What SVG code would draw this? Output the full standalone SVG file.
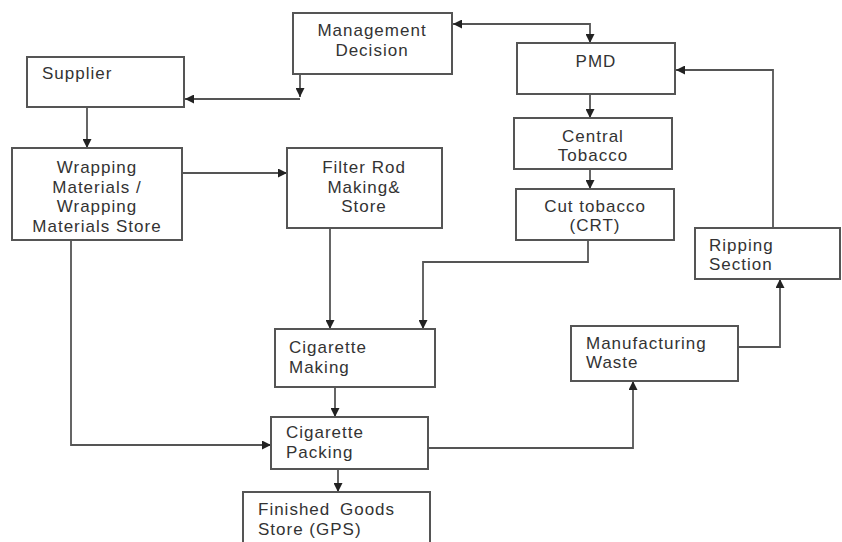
<svg xmlns="http://www.w3.org/2000/svg" width="842" height="542" viewBox="0 0 842 542">
<defs>
<marker id="ah" viewBox="0 0 10 10" refX="10" refY="5" markerWidth="9" markerHeight="9" markerUnits="userSpaceOnUse" orient="auto-start-reverse">
<path d="M0,0 L10,5 L0,10 z" fill="#222"/>
</marker>
<style>
.box{fill:#fff;stroke:#555;stroke-width:2}
.t{font-family:"Liberation Sans",Arial,sans-serif;font-size:17px;fill:#333;letter-spacing:1px}
.c{text-anchor:middle}
.ln{fill:none;stroke:#555;stroke-width:1.8}
</style>
</defs>
<rect width="842" height="542" fill="#fff"/>
<g id="connectors">
<path class="ln" d="M300,74 V97" marker-end="url(#ah)"/>
<path class="ln" d="M300,99 H185" marker-end="url(#ah)"/>
<path class="ln" d="M453,24 H590 V43" marker-start="url(#ah)" marker-end="url(#ah)"/>
<path class="ln" d="M87,107 V148" marker-end="url(#ah)"/>
<path class="ln" d="M182,173 H287" marker-end="url(#ah)"/>
<path class="ln" d="M590,94 V118" marker-end="url(#ah)"/>
<path class="ln" d="M590,169 V189" marker-end="url(#ah)"/>
<path class="ln" d="M773,228 V70 H676" marker-end="url(#ah)"/>
<path class="ln" d="M588,240 V262 H423 V329" marker-end="url(#ah)"/>
<path class="ln" d="M330,228 V329" marker-end="url(#ah)"/>
<path class="ln" d="M335,387 V417" marker-end="url(#ah)"/>
<path class="ln" d="M71,240 V445 H271" marker-end="url(#ah)"/>
<path class="ln" d="M338,469 V492" marker-end="url(#ah)"/>
<path class="ln" d="M428,448 H633 V381" marker-end="url(#ah)"/>
<path class="ln" d="M738,347 H780 V279" marker-end="url(#ah)"/>
</g>
<g id="management">
<rect class="box" x="293" y="13" width="159" height="61"/>
<text class="t c" x="372" y="36">Management</text>
<text class="t c" x="372" y="56">Decision</text>
</g>
<g id="supplier">
<rect class="box" x="27" y="57" width="157" height="50"/>
<text class="t" x="42" y="79">Supplier</text>
</g>
<g id="wrapping">
<rect class="box" x="12" y="148" width="170" height="92"/>
<text class="t c" x="97" y="173">Wrapping</text>
<text class="t c" x="97" y="193">Materials /</text>
<text class="t c" x="97" y="212">Wrapping</text>
<text class="t c" x="97" y="232">Materials Store</text>
</g>
<g id="filter">
<rect class="box" x="287" y="148" width="155" height="80"/>
<text class="t c" x="364" y="173">Filter Rod</text>
<text class="t c" x="364" y="193">Making&amp;</text>
<text class="t c" x="364" y="212">Store</text>
</g>
<g id="pmd">
<rect class="box" x="517" y="43" width="158" height="51"/>
<text class="t c" x="596" y="67">PMD</text>
</g>
<g id="central">
<rect class="box" x="514" y="118" width="158" height="51"/>
<text class="t c" x="593" y="142">Central</text>
<text class="t c" x="593" y="161">Tobacco</text>
</g>
<g id="cut">
<rect class="box" x="516" y="189" width="158" height="51"/>
<text class="t c" x="595" y="212">Cut tobacco</text>
<text class="t c" x="595" y="231">(CRT)</text>
</g>
<g id="ripping">
<rect class="box" x="695" y="228" width="145" height="51"/>
<text class="t" x="709" y="251">Ripping</text>
<text class="t" x="709" y="270">Section</text>
</g>
<g id="making">
<rect class="box" x="275" y="329" width="160" height="58"/>
<text class="t" x="289" y="353">Cigarette</text>
<text class="t" x="289" y="373">Making</text>
</g>
<g id="packing">
<rect class="box" x="271" y="417" width="157" height="52"/>
<text class="t" x="286" y="438">Cigarette</text>
<text class="t" x="286" y="458">Packing</text>
</g>
<g id="waste">
<rect class="box" x="571" y="326" width="167" height="55"/>
<text class="t" x="586" y="349">Manufacturing</text>
<text class="t" x="586" y="368">Waste</text>
</g>
<g id="finished">
<rect class="box" x="243" y="492" width="187" height="56"/>
<text class="t" x="258" y="515" word-spacing="4">Finished Goods</text>
<text class="t" x="258" y="535">Store (GPS)</text>
</g>
</svg>
